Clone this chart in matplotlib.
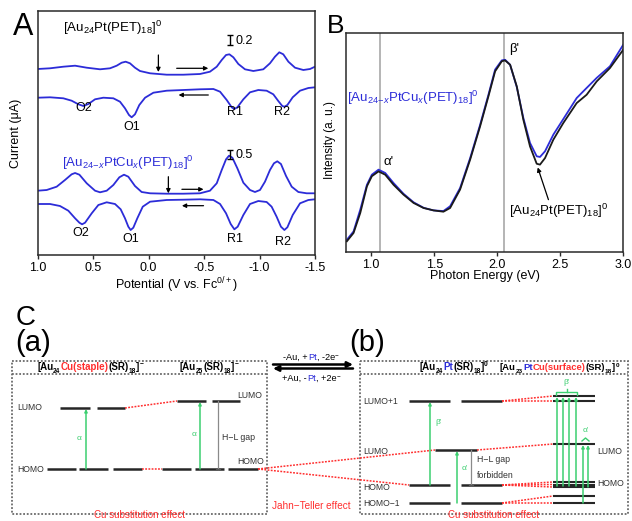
import numpy as np
import matplotlib
matplotlib.use('Agg')
import matplotlib.pyplot as plt
from matplotlib.patches import Rectangle
from matplotlib.ticker import FormatStrFormatter

plt.rcParams['font.family'] = ['Liberation Sans', 'DejaVu Sans']
plt.rcParams['mathtext.fontset'] = 'custom'
plt.rcParams['mathtext.rm'] = 'Liberation Sans'
plt.rcParams['mathtext.it'] = 'Liberation Sans:italic'
plt.rcParams['mathtext.bf'] = 'Liberation Sans:bold'

BLUE = '#2c2cd8'
RED = '#ff2e2e'
GREEN = '#3ccf70'
DARK = '#2a2a2a'

# ---------------- Panel A data (cyclic voltammograms) ----------------
cv1_fwd_V = [1.000, 0.889, 0.769, 0.663, 0.558, 0.438, 0.348, 0.288, 0.243, 0.207, 0.168, 0.123, 0.078,
             -0.013, -0.163, -0.313, -0.463, -0.553, -0.614, -0.659, -0.698, -0.728, -0.764, -0.809,
             -0.869, -0.944, -1.034, -1.094, -1.139, -1.178, -1.214, -1.260, -1.320, -1.395, -1.455, -1.500]
cv1_fwd_I = [18.60, 18.67, 18.83, 18.93, 18.73, 18.57, 18.67, 18.93, 19.23, 19.33, 19.17, 18.73, 18.40,
             18.17, 18.03, 18.03, 18.10, 18.33, 18.83, 19.50, 20.00, 20.07, 19.77, 19.10,
             18.57, 18.40, 18.57, 19.17, 19.83, 20.27, 20.07, 19.33, 18.73, 18.50, 18.60, 18.83]

cv1_rev_V = [1.000, 0.889, 0.769, 0.694, 0.633, 0.588, 0.543, 0.483, 0.408, 0.318, 0.258, 0.213, 0.177,
             0.153, 0.123, 0.084, 0.032, -0.043, -0.163, -0.313, -0.463, -0.584, -0.644, -0.704, -0.749,
             -0.773, -0.800, -0.854, -0.914, -0.989, -1.064, -1.124, -1.169, -1.205, -1.224, -1.251,
             -1.299, -1.365, -1.440, -1.500]
cv1_rev_I = [15.73, 15.77, 15.67, 15.43, 15.07, 14.90, 15.10, 15.57, 15.73, 15.67, 15.33, 14.67, 14.00,
             13.77, 14.07, 15.00, 15.73, 16.23, 16.43, 16.50, 16.57, 16.60, 16.33, 15.50, 14.77,
             14.60, 14.77, 15.57, 16.27, 16.50, 16.43, 16.07, 15.40, 14.90, 14.83, 15.00,
             15.77, 16.43, 16.70, 16.77]

cv2_fwd_V = [1.000, 0.919, 0.829, 0.754, 0.694, 0.663, 0.624, 0.558, 0.483, 0.438, 0.378, 0.318, 0.264,
             0.222, 0.183, 0.123, 0.063, -0.013, -0.163, -0.313, -0.463, -0.553, -0.614, -0.659, -0.698,
             -0.725, -0.755, -0.800, -0.854, -0.914, -0.959, -1.004, -1.049, -1.094, -1.130, -1.160,
             -1.193, -1.239, -1.290, -1.350, -1.425, -1.500]
cv2_fwd_I = [6.43, 6.50, 6.83, 7.50, 8.07, 8.20, 8.03, 7.17, 6.43, 6.27, 6.43, 7.00, 7.77,
             8.03, 7.83, 6.90, 6.30, 6.17, 6.13, 6.13, 6.17, 6.43, 7.17, 8.50, 9.57,
             9.93, 9.73, 8.67, 7.23, 6.50, 6.30, 6.50, 7.33, 8.50, 9.17, 9.37,
             9.10, 7.90, 6.83, 6.30, 6.17, 6.17]

cv2_rev_V = [1.000, 0.889, 0.799, 0.724, 0.663, 0.624, 0.600, 0.573, 0.513, 0.453, 0.378, 0.303, 0.252,
             0.213, 0.183, 0.162, 0.138, 0.102, 0.053, -0.013, -0.163, -0.313, -0.463, -0.584, -0.644,
             -0.698, -0.740, -0.773, -0.803, -0.854, -0.914, -0.989, -1.064, -1.109, -1.154, -1.193,
             -1.224, -1.251, -1.299, -1.365, -1.440, -1.500]
cv2_rev_I = [5.10, 5.10, 4.90, 4.43, 3.67, 3.23, 3.07, 3.23, 4.17, 5.00, 5.27, 5.10, 4.57,
             3.67, 2.83, 2.50, 2.73, 3.67, 4.83, 5.33, 5.50, 5.53, 5.57, 5.50, 5.10,
             4.17, 3.10, 2.57, 2.83, 4.00, 5.10, 5.40, 5.30, 4.83, 3.83, 2.83,
             2.50, 2.77, 4.00, 5.17, 5.50, 5.57]

potential_ticks = [1.0, 0.5, 0.0, -0.5, -1.0, -1.5]

# ---------------- Panel B data (absorption spectra) ----------------
energy_eV = [0.807, 0.860, 0.913, 0.966, 1.005, 1.058, 1.111, 1.177, 1.256, 1.336, 1.415, 1.494, 1.573,
             1.626, 1.705, 1.785, 1.864, 1.930, 1.983, 2.036, 2.062, 2.102, 2.155, 2.207, 2.260, 2.313,
             2.339, 2.379, 2.445, 2.524, 2.630, 2.709, 2.789, 2.894, 3.000]
abs_Au24Pt = [0.049, 0.087, 0.178, 0.300, 0.346, 0.368, 0.353, 0.307, 0.262, 0.224, 0.201, 0.190, 0.184,
              0.201, 0.285, 0.422, 0.574, 0.711, 0.825, 0.871, 0.875, 0.855, 0.756, 0.604, 0.482, 0.403,
              0.399, 0.429, 0.513, 0.589, 0.680, 0.718, 0.779, 0.840, 0.924]
abs_Au24PtCu = [0.056, 0.094, 0.193, 0.307, 0.353, 0.376, 0.361, 0.315, 0.266, 0.227, 0.202, 0.190, 0.187,
                0.209, 0.292, 0.429, 0.581, 0.718, 0.833, 0.875, 0.878, 0.855, 0.753, 0.612, 0.498, 0.437,
                0.434, 0.460, 0.536, 0.607, 0.703, 0.749, 0.795, 0.848, 0.947]
peak_lines_eV = [1.07, 2.055]
energy_ticks = [1.0, 1.5, 2.0, 2.5, 3.0]

W, H = 632, 521
fig = plt.figure(figsize=(W / 100, H / 100), dpi=100)
renderer = fig.canvas.get_renderer()


def frac(x0, y0, x1, y1):
    return [x0 / W, 1 - y1 / H, (x1 - x0) / W, (y1 - y0) / H]


# ================= Panel A =================
axA = fig.add_axes(frac(37.7, 11, 315, 255))
for v, i in [(cv1_fwd_V, cv1_fwd_I), (cv1_rev_V, cv1_rev_I), (cv2_fwd_V, cv2_fwd_I), (cv2_rev_V, cv2_rev_I)]:
    axA.plot(v, i, color=BLUE, lw=1.3, solid_joinstyle='round')
axA.set_xlim(1.0, -1.5)
axA.set_ylim(0, 24.4)
axA.set_xticks(potential_ticks)
axA.xaxis.set_major_formatter(FormatStrFormatter('%.1f'))
axA.set_yticks([])
axA.tick_params(axis='x', direction='out', length=3, width=1, labelsize=9, pad=2, color=DARK)
for s in axA.spines.values():
    s.set_linewidth(1.1)
    s.set_color(DARK)
axA.set_xlabel(r'Potential (V vs. Fc$^{0/+}$)', fontsize=9)
axA.xaxis.set_label_coords(0.5, -0.085)
axA.set_ylabel('Current (μA)', fontsize=9)
axA.yaxis.set_label_coords(-0.057, 0.5)

axA.text(0.769, 22.7, r'[Au$_{24}$Pt(PET)$_{18}$]$^{0}$', fontsize=9.5, ha='left', va='center')
axA.text(0.784, 9.17, r'[Au$_{24\!-\!\mathit{x}}$PtCu$_{\mathit{x}}$(PET)$_{18}$]$^{0}$', fontsize=9.5,
         ha='left', va='center', color=BLUE)
axA.errorbar([-0.734], [21.5], yerr=[0.5], color='k', capsize=2.5, lw=1, capthick=1)
axA.text(-0.78, 21.45, '0.2', fontsize=9, ha='left', va='center')
axA.errorbar([-0.734], [10.05], yerr=[0.45], color='k', capsize=2.5, lw=1, capthick=1)
axA.text(-0.78, 10.0, '0.5', fontsize=9, ha='left', va='center')

arr = dict(arrowstyle='-|>', color='k', lw=0.9, mutation_scale=6, shrinkA=0, shrinkB=0)
axA.annotate('', xy=(-0.088, 18.3), xytext=(-0.088, 20.0), arrowprops=arr)
axA.annotate('', xy=(-0.538, 18.67), xytext=(-0.253, 18.67), arrowprops=arr)
axA.annotate('', xy=(-0.27, 16.0), xytext=(-0.538, 16.0), arrowprops=arr)
axA.annotate('', xy=(-0.178, 6.17), xytext=(-0.178, 7.83), arrowprops=arr)
axA.annotate('', xy=(-0.495, 6.57), xytext=(-0.30, 6.57), arrowprops=arr)
axA.annotate('', xy=(-0.30, 4.93), xytext=(-0.495, 4.93), arrowprops=arr)

for lbl, x, y in [('O2', 0.588, 14.67), ('O1', 0.15, 12.83), ('R1', -0.78, 14.33), ('R2', -1.20, 14.33),
                  ('O2', 0.61, 2.17), ('O1', 0.16, 1.57), ('R1', -0.78, 1.57), ('R2', -1.21, 1.33)]:
    axA.text(x, y, lbl, fontsize=9, ha='center', va='center')

# ================= Panel B =================
axB = fig.add_axes(frac(346, 33, 623.3, 252))
for e in peak_lines_eV:
    axB.axvline(e, color='#b4b4b4', lw=1.4, zorder=1)
axB.plot(energy_eV, abs_Au24PtCu, color=BLUE, lw=1.3, zorder=2)
axB.plot(energy_eV, abs_Au24Pt, color='#1a1a1a', lw=1.3, zorder=3)
axB.set_xlim(0.8, 3.0)
axB.set_ylim(0, 1)
axB.set_xticks(energy_ticks)
axB.xaxis.set_major_formatter(FormatStrFormatter('%.1f'))
axB.set_yticks([])
axB.tick_params(axis='x', direction='out', length=3, width=1, labelsize=9, pad=2, color=DARK)
for s in axB.spines.values():
    s.set_linewidth(1.1)
    s.set_color(DARK)
axB.set_xlabel('Photon Energy (eV)', fontsize=9)
axB.xaxis.set_label_coords(0.5, -0.082)
axB.set_ylabel('Intensity (a. u.)', fontsize=8.5)
axB.yaxis.set_label_coords(-0.036, 0.51)
axB.text(0.808, 0.703, r'[Au$_{24\!-\!\mathit{x}}$PtCu$_{\mathit{x}}$(PET)$_{18}$]$^{0}$', fontsize=9.5,
         ha='left', va='center', color=BLUE)
axB.text(2.096, 0.189, r'[Au$_{24}$Pt(PET)$_{18}$]$^{0}$', fontsize=9.5, ha='left', va='center')
axB.annotate('', xy=(2.321, 0.386), xytext=(2.406, 0.239),
             arrowprops=dict(arrowstyle='-|>', color='k', lw=0.9, mutation_scale=6, shrinkA=0, shrinkB=0))
axB.text(1.14, 0.41, "α'", fontsize=9.5, ha='center', va='center')
axB.text(2.135, 0.925, "β'", fontsize=9.5, ha='center', va='center')

# ================= Panel labels =================
fig.text(13 / W, 1 - 35 / H, 'A', fontsize=22, va='baseline', ha='left')
fig.text(327 / W, 1 - 33 / H, 'B', fontsize=19, va='baseline', ha='left')
fig.text(16 / W, 1 - 325 / H, 'C', fontsize=20, va='baseline', ha='left')
fig.text(15 / W, 1 - 351 / H, '(a)', fontsize=21, va='baseline', ha='left')
fig.text(349 / W, 1 - 351 / H, '(b)', fontsize=21, va='baseline', ha='left')

# ================= Panel C (schematic energy diagram) =================
axC = fig.add_axes([0, 0, 1, 1], zorder=-1)
axC.set_xlim(0, W)
axC.set_ylim(H, 0)
axC.axis('off')

box_a = (12, 361, 267, 514)
box_b = (360, 361, 628, 514)
header_bottom = 374
dotted = (0, (1, 1))
for (x0, y0, x1, y1) in [box_a, box_b]:
    axC.add_patch(Rectangle((x0, y0), x1 - x0, y1 - y0, fill=False, ec='#6a6a6a', lw=1.3, ls=dotted))
    axC.plot([x0, x1], [header_bottom, header_bottom], color='#6a6a6a', lw=1.3, ls=dotted)


def rich(ax, x, baseline, pieces, fs=6, weight='bold', center=False):
    """Draw coloured text pieces ('n' normal, 'b' subscript, 'p' superscript) on a common baseline."""
    arts = []
    cur = x
    px_per_pt = 100 / 72
    for t, c, kind in pieces:
        if kind == 'n':
            size, dy = fs, 0
        elif kind == 'b':
            size, dy = fs * 0.68, 0.28 * fs * px_per_pt
        else:
            size, dy = fs * 0.68, -0.42 * fs * px_per_pt
        a = ax.text(cur, baseline + dy, t, color=c, fontsize=size, fontweight=weight, ha='left', va='baseline')
        bb = a.get_window_extent(renderer)
        cur += bb.width
        arts.append(a)
    if center:
        shift = (cur - x) / 2
        for a in arts:
            px, py = a.get_position()
            a.set_position((px - shift, py))


rich(axC, 37, 370.5, [('[Au', 'k', 'n'), ('24', 'k', 'b'), ('Cu(staple)', RED, 'n'),
                      ('(SR)', 'k', 'n'), ('18', 'k', 'b'), (']', 'k', 'n'), ('−', 'k', 'p')], fs=7)
rich(axC, 180, 370.5, [('[Au', 'k', 'n'), ('25', 'k', 'b'), ('(SR)', 'k', 'n'), ('18', 'k', 'b'),
                       (']', 'k', 'n'), ('−', 'k', 'p')], fs=7)
rich(axC, 420, 370.5, [('[Au', 'k', 'n'), ('24', 'k', 'b'), ('Pt', BLUE, 'n'), ('(SR)', 'k', 'n'),
                       ('18', 'k', 'b'), (']', 'k', 'n'), ('0', 'k', 'p')], fs=7)
rich(axC, 500, 370.5, [('[Au', 'k', 'n'), ('23', 'k', 'b'), ('Pt', BLUE, 'n'), ('Cu(surface)', RED, 'n'),
                       ('(SR)', 'k', 'n'), ('18', 'k', 'b'), (']', 'k', 'n'), ('0', 'k', 'p')], fs=6.8)
rich(axC, 311, 360, [('-Au, +', 'k', 'n'), ('Pt', BLUE, 'n'), (', -2e', 'k', 'n'), ('−', 'k', 'p')],
     fs=6.6, weight='normal', center=True)
rich(axC, 311, 381, [('+Au, -', 'k', 'n'), ('Pt', BLUE, 'n'), (', +2e', 'k', 'n'), ('−', 'k', 'p')],
     fs=6.6, weight='normal', center=True)
axC.annotate('', xy=(353, 364.5), xytext=(273, 364.5),
             arrowprops=dict(arrowstyle='-|>', color='k', lw=1.8, mutation_scale=8, shrinkA=0, shrinkB=0))
axC.annotate('', xy=(273, 368.5), xytext=(353, 368.5),
             arrowprops=dict(arrowstyle='-|>', color='k', lw=1.8, mutation_scale=8, shrinkA=0, shrinkB=0))

LVL = dict(color='#262626', lw=1.8, solid_capstyle='butt')
RD = dict(color=RED, lw=1.1, ls=(0, (1.2, 0.9)))
LAB = dict(fontsize=6.2, color='#333333', va='center')

# (a) levels
a_lumo_left = (408, [(60, 90), (97, 125)])
a_lumo_right = (401, [(177, 206), (212, 240)])
a_homo = (469, [(47, 76), (79, 108), (113, 142), (162, 191), (195, 224), (228, 258)])
for y, segs in [a_lumo_left, a_lumo_right, a_homo]:
    for x0, x1 in segs:
        axC.plot([x0, x1], [y, y], **LVL)
axC.plot([125, 177], [408, 401], **RD)
axC.plot([142, 162], [469, 469], **RD)
garr = dict(arrowstyle='-|>', color=GREEN, lw=1.1, mutation_scale=4, shrinkA=0, shrinkB=0)
axC.annotate('', xy=(86, 409), xytext=(86, 469), arrowprops=garr)
axC.annotate('', xy=(200, 402), xytext=(200, 469), arrowprops=garr)
axC.text(79, 439, 'α', fontsize=6, color=GREEN, ha='center', va='center')
axC.text(194, 434, 'α', fontsize=6, color=GREEN, ha='center', va='center')
axC.plot([218, 218], [401, 469], color='#8a8a8a', lw=0.9)
axC.plot([216, 220], [469, 469], color='#555555', lw=0.9)
axC.text(222, 437, 'H−L gap', fontsize=6.3, color='#333333', ha='left', va='center')
axC.text(17, 408, 'LUMO', ha='left', **LAB)
axC.text(17, 469, 'HOMO', ha='left', **LAB)
axC.text(237, 395, 'LUMO', ha='left', **LAB)
axC.text(237, 462, 'HOMO', ha='left', **LAB)

# Jahn-Teller red connections
axC.plot([258, 435], [469, 450], **RD)
axC.plot([258, 409], [469, 485], **RD)
axC.text(311, 506, 'Jahn−Teller effect', fontsize=7.2, color=RED, ha='center', va='center')
axC.text(140, 520.5, 'Cu substitution effect', fontsize=7, color=RED, ha='center', va='bottom')
axC.text(494, 520.5, 'Cu substitution effect', fontsize=7, color=RED, ha='center', va='bottom')

# (b) levels
b_levels = [(401, [(409, 450), (461, 502)]),
            (450, [(435, 477)]),
            (485, [(409, 450), (461, 502)]),
            (503, [(409, 450), (461, 502)])]
for y, segs in b_levels:
    for x0, x1 in segs:
        axC.plot([x0, x1], [y, y], **LVL)
right_levels = [396, 401, 444, 482, 484.5, 487, 496, 503]
for y in right_levels:
    axC.plot([553, 595], [y, y], color='#262626', lw=1.5, solid_capstyle='butt')
for (xs, ys), targets in [((502, 401), [396, 401]), ((477, 450), [444]),
                          ((502, 485), [482, 484.5, 487]), ((502, 503), [496, 503])]:
    for yt in targets:
        axC.plot([xs, 553], [ys, yt], **RD)

axC.text(363, 401, 'LUMO+1', ha='left', **LAB)
axC.text(363, 451, 'LUMO', ha='left', **LAB)
axC.text(363, 488, 'HOMO', ha='left', **LAB)
axC.text(363, 503, 'HOMO−1', ha='left', **LAB)
axC.text(597, 451, 'LUMO', ha='left', **LAB)
axC.text(597, 483, 'HOMO', ha='left', **LAB)

axC.annotate('', xy=(430, 402), xytext=(430, 485), arrowprops=garr)
axC.annotate('', xy=(457, 451), xytext=(457, 503), arrowprops=garr)
axC.text(435, 423, "β'", fontsize=6, color=GREEN, ha='left', va='center')
axC.text(462, 468, "α'", fontsize=6, color=GREEN, ha='left', va='center')
axC.plot([471, 471], [450, 485], color='#8a8a8a', lw=0.9)
axC.plot([469, 473], [485, 485], color='#555555', lw=0.9)
axC.text(477, 460, 'H−L gap', fontsize=6.3, color='#333333', ha='left', va='center')
axC.text(477, 475, 'forbidden', fontsize=6.3, color='#333333', ha='left', va='center')

for x in [557, 563, 569, 576]:
    axC.annotate('', xy=(x, 397), xytext=(x, 486), arrowprops=garr)
axC.annotate('', xy=(583, 445), xytext=(583, 503), arrowprops=garr)
axC.annotate('', xy=(588, 445), xytext=(588, 487), arrowprops=garr)
axC.plot([556, 556, 577, 577], [395, 392, 392, 395], color=GREEN, lw=1.0)
axC.plot([566.5, 566.5], [392, 389], color=GREEN, lw=1.0)
axC.text(566.5, 383, "β'", fontsize=6, color=GREEN, ha='center', va='center')
axC.plot([582, 585.5, 589], [441, 438, 441], color=GREEN, lw=1.0)
axC.text(585.5, 430, "α'", fontsize=6, color=GREEN, ha='center', va='center')

fig.savefig('out.png', dpi=100)
